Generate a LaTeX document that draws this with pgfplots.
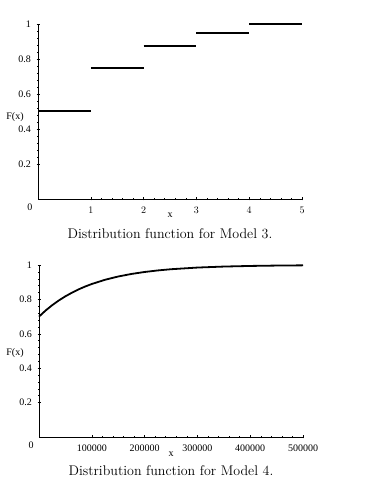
\documentclass[border=0pt]{standalone}
\usepackage{fontspec}
\usepackage{pgfplots}
\pgfplotsset{compat=1.18}
\newfontfamily\tickfont{Liberation Serif}
\begin{document}
\begin{tikzpicture}
\path[use as bounding box] (0pt,0pt) rectangle (386pt,489pt);
\pgfplotsset{
  maplestyle/.style={
    scale only axis,
    width=264pt,
    axis x line=bottom, axis y line=left,
    axis line style={-, line width=0.8pt},
    ymin=0, ymax=1,
    ytick={0.2,0.4,0.6,0.8,1},
    yticklabels={0.2,0.4,0.6,0.8,1},
    minor x tick num=4, minor y tick num=4,
    major tick length=3pt, minor tick length=1.6pt,
    tick style={black, line width=0.5pt},
    tick label style={font=\tickfont\fontsize{10}{11}\selectfont},
    yticklabel style={xshift=-2pt},
    clip=false,
  }
}
% Top chart
\begin{axis}[maplestyle, at={(38pt,290pt)}, anchor=south west, height=175pt,
  xmin=0, xmax=5, xtick={1,2,3,4,5},
  xticklabel style={yshift=-3pt}, unbounded coords=jump,
]
\addplot[black, line width=1.8pt, line cap=butt] coordinates {
(0,0.503) (1,0.503) (1,nan)
(1,0.75) (2,0.75) (2,nan)
(2,0.875) (3,0.875) (3,nan)
(3,0.95) (4,0.95) (4,nan)
(4,1) (5,1)};
\node[font=\tickfont\fontsize{10}{11}\selectfont, anchor=center] at (axis cs:0,0) [xshift=-8pt, yshift=-8pt] {0};
\node[font=\tickfont\fontsize{10}{11}\selectfont] at (axis cs:2.5,0) [yshift=-16pt] {x};
\node[font=\tickfont\fontsize{10}{11}\selectfont] at (axis cs:0,0.47) [xshift=-23pt] {F(x)};
\node[font=\fontsize{14}{16}\selectfont] at (axis cs:2.5,0) [yshift=-35pt] {Distribution function for Model 3.};
\end{axis}
% Bottom chart
\begin{axis}[maplestyle, at={(39pt,52pt)}, anchor=south west, height=172pt,
  xmin=0, xmax=500000, xtick={100000,200000,300000,400000,500000},
  xticklabels={100000,200000,300000,400000,500000},
  scaled x ticks=false,
  xticklabel style={yshift=-3pt},
]
\addplot[black, line width=1.8pt] coordinates {
(0,0.7) (12500,0.7353) (25000,0.7664) (37500,0.7938) (50000,0.8180) (62500,0.8392)
(75000,0.8583) (87500,0.8749) (100000,0.8896) (125000,0.9140) (150000,0.9331)
(175000,0.9479) (200000,0.9594) (225000,0.9684) (250000,0.9754) (300000,0.9851)
(350000,0.9909) (400000,0.9945) (450000,0.9967) (500000,0.9980)};
\node[font=\tickfont\fontsize{10}{11}\selectfont, anchor=center] at (axis cs:0,0) [xshift=-8pt, yshift=-8pt] {0};
\node[font=\tickfont\fontsize{10}{11}\selectfont] at (axis cs:250000,0) [yshift=-17pt] {x};
\node[font=\tickfont\fontsize{10}{11}\selectfont] at (axis cs:0,0.49) [xshift=-24pt] {F(x)};
\node[font=\fontsize{14}{16}\selectfont] at (axis cs:250000,0) [yshift=-34pt] {Distribution function for Model 4.};
\end{axis}
\end{tikzpicture}
\end{document}
